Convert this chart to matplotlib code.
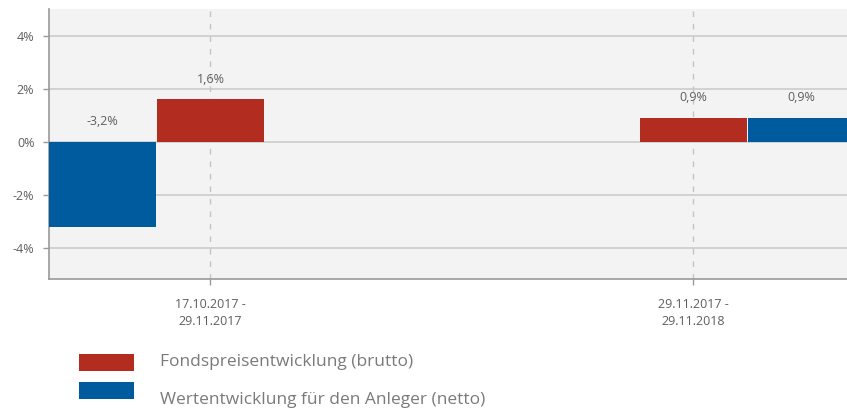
import numpy as np
import matplotlib
matplotlib.use("Agg")
import matplotlib.pyplot as plt

periods = ["17.10.2017 -\n29.11.2017", "29.11.2017 -\n29.11.2018"]
brutto = [1.6, 0.9]
netto = [-3.2, 0.9]
brutto_label = "Fondspreisentwicklung (brutto)"
netto_label = "Wertentwicklung für den Anleger (netto)"
yticks = [-4, -2, 0, 2, 4]

RED = "#b22c1f"
BLUE = "#005a9e"
GREY_TXT = "#5f5f5f"

plt.rcParams["font.family"] = ["Open Sans", "DejaVu Sans"]

fig = plt.figure(figsize=(8.47, 4.09), dpi=100)
W, H = 847, 409
ax = fig.add_axes([49 / W, (H - 279) / H, (847 - 49) / W, (279 - 9) / H])
ax.set_facecolor("#f2f3f2")

w = 0.2215
offset = 0.2236
netto_side = [-1, 1]   # netto bar left of first category, right of second
x = np.arange(len(periods))
xn = x + np.array(netto_side) * offset

ax.bar(x, brutto, width=w, color=RED, zorder=3, label=brutto_label)
ax.bar(xn, netto, width=w, color=BLUE, zorder=3, label=netto_label)

for xs, vals in [(x, brutto), (xn, netto)]:
    for xi, v in zip(xs, vals):
        ax.annotate(f"{v:.1f}%".replace(".", ","), (xi, max(v, 0)), xytext=(0, 10),
                    textcoords="offset points", ha="center", va="bottom",
                    fontsize=9, color=GREY_TXT)

ax.set_xlim(-0.3344, 1.318)
ax.set_ylim(-5.15, 5.0)
ax.set_yticks(yticks)
ax.set_yticklabels([f"{t}%" for t in yticks])
ax.set_xticks(x)
ax.set_xticklabels(periods, linespacing=1.45)

ax.yaxis.grid(True, color="#cccccc", linewidth=1.2, zorder=1)
for xi in x:
    ax.axvline(xi, color="#c4c4c4", linewidth=1, linestyle=(0, (4, 5)), zorder=2)
ax.set_axisbelow(True)

for s in ["top", "right"]:
    ax.spines[s].set_visible(False)
for s in ["left", "bottom"]:
    ax.spines[s].set_color("#999999")
    ax.spines[s].set_linewidth(1.2)
ax.tick_params(axis="both", direction="out", length=4.5, width=1, color="#999999",
               labelsize=9, labelcolor=GREY_TXT)
ax.tick_params(axis="y", pad=6)
ax.tick_params(axis="x", pad=9)

# legend swatches, labels as separate texts
handles, labels = ax.get_legend_handles_labels()
fs = 12.5
px = fs * 100 / 72
fig.legend(handles, ["", ""], loc="upper left",
           bbox_to_anchor=(79 / W, 1 - 354 / H), frameon=False,
           fontsize=fs, handlelength=55 / px, handleheight=19 / px,
           labelspacing=(29 - 19) / px, handletextpad=0, borderpad=0,
           borderaxespad=0)
fig.text(160 / W, 1 - 362 / H, labels[0], fontsize=fs, color="#7a7a7a",
         ha="left", va="center")
fig.text(160 / W, 1 - 400 / H, labels[1], fontsize=fs, color="#7a7a7a",
         ha="left", va="center")

fig.savefig("out.png", dpi=100)
